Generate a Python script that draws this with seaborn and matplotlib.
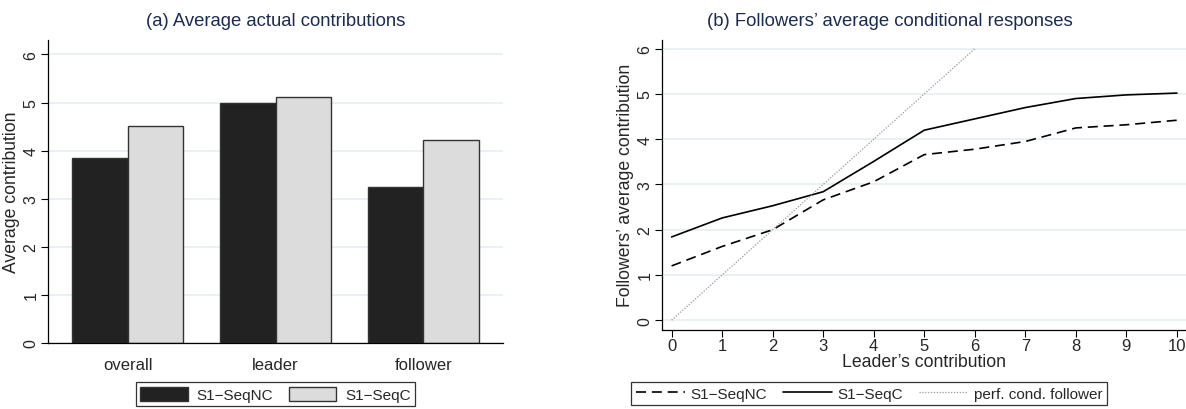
import numpy as np
import pandas as pd
import matplotlib
matplotlib.use("Agg")
import matplotlib.pyplot as plt
import seaborn as sns

# panel (a)
groups = ["overall", "leader", "follower"]
treatments = ["S1\u2212SeqNC", "S1\u2212SeqC"]
seqnc_bars = [3.84, 5.00, 3.25]
seqc_bars = [4.52, 5.12, 4.23]

# panel (b)
leader_contrib = [0, 1, 2, 3, 4, 5, 6, 7, 8, 9, 10]
seqnc_resp = [1.20, 1.63, 2.00, 2.66, 3.06, 3.66, 3.78, 3.95, 4.25, 4.32, 4.42]
seqc_resp = [1.84, 2.26, 2.53, 2.84, 3.51, 4.20, 4.45, 4.70, 4.90, 4.98, 5.02]
perfect_x = [0, 6]
perfect_y = [0, 6]

sns.set_theme(style="white")
plt.rcParams["font.family"] = ["Liberation Sans", "DejaVu Sans"]

title_col = "#1c2b52"
grid_col = "#e6eff0"

fig = plt.figure(figsize=(11.86, 4.10), dpi=100)
ax1 = fig.add_axes([48 / 1186, 66 / 410, 455 / 1186, 303 / 410])
ax2 = fig.add_axes([662 / 1186, 79.3 / 410, 524 / 1186, 290 / 410])

df = pd.DataFrame({
    "group": groups * 2,
    "treatment": [treatments[0]] * 3 + [treatments[1]] * 3,
    "value": seqnc_bars + seqc_bars,
})
sns.barplot(data=df, x="group", y="value", hue="treatment", ax=ax1,
            palette=["#222222", "#dcdcdc"], width=0.75, saturation=1,
            edgecolor="#333333", linewidth=1.0, legend=False)
ax1.set_xlim(-0.54, 2.54)
ax1.set_ylim(0, 6.3)

sns.lineplot(x=leader_contrib, y=seqnc_resp, ax=ax2, color="black",
             linewidth=1.2, label=treatments[0])
sns.lineplot(x=leader_contrib, y=seqc_resp, ax=ax2, color="black",
             linewidth=1.2, label=treatments[1])
sns.lineplot(x=perfect_x, y=perfect_y, ax=ax2, color="#999999",
             linewidth=0.9, label="perf. cond. follower")
lines = ax2.get_lines()
lines[0].set_dashes((6, 3.5))
lines[2].set_linestyle((0, (1, 1.3)))
ax2.get_legend().remove()
ax2.set_xlim(-0.19, 10.18)
ax2.set_ylim(-0.21, 6.2)
ax2.set_xticks(leader_contrib)

for ax in (ax1, ax2):
    ax.set_yticks(range(7))
    ax.yaxis.grid(True, color=grid_col, linewidth=1.2)
    ax.set_axisbelow(True)
    for s in ("top", "right"):
        ax.spines[s].set_visible(False)
    ax.spines["left"].set_color("black")
    ax.spines["bottom"].set_color("black")
    ax.spines["left"].set_linewidth(0.9)
    ax.spines["bottom"].set_linewidth(0.9)
    ax.tick_params(axis="y", left=True, length=5, width=0.8, color="black",
                   labelsize=11.5, labelrotation=90, pad=2)
    for t in ax.get_yticklabels():
        t.set_verticalalignment("center")

ax1.tick_params(axis="x", bottom=False, labelsize=12, pad=4)
ax2.tick_params(axis="x", bottom=True, length=5, width=0.8, color="black",
                labelsize=12, pad=1)

ax1.set_xlabel("")
ax1.set_ylabel("Average contribution", fontsize=12.7, labelpad=2)
ax2.set_xlabel("Leader\u2019s contribution", fontsize=12.7, labelpad=0)
ax2.set_ylabel("Followers\u2019 average contribution", fontsize=12.7, labelpad=2)

fig.text(275.5 / 1186, 1 - 22 / 410, "(a) Average actual contributions",
         ha="center", va="center", fontsize=13.3, color=title_col)
fig.text(890 / 1186, 1 - 22 / 410, "(b) Followers\u2019 average conditional responses",
         ha="center", va="center", fontsize=13.3, color=title_col)

h1 = [ax1.patches[0], ax1.patches[3]]
leg1 = fig.legend(h1, treatments, loc="upper center", ncol=2,
                  bbox_to_anchor=(275.5 / 1186, 1 - 383 / 410),
                  fontsize=11, frameon=True, fancybox=False,
                  edgecolor="black", handlelength=3.1, handleheight=1.05,
                  handletextpad=0.6, columnspacing=1.0,
                  borderaxespad=0, borderpad=0.3)
leg1.get_frame().set_linewidth(0.9)

leg2 = fig.legend(lines, treatments + ["perf. cond. follower"], loc="upper center",
                  ncol=3, bbox_to_anchor=(869 / 1186, 1 - 383 / 410),
                  fontsize=11, frameon=True, fancybox=False,
                  edgecolor="black", handlelength=3.2, handletextpad=0.4,
                  columnspacing=1.0, borderaxespad=0, borderpad=0.3)
leg2.get_frame().set_linewidth(0.9)

fig.savefig("out.png", dpi=100)
